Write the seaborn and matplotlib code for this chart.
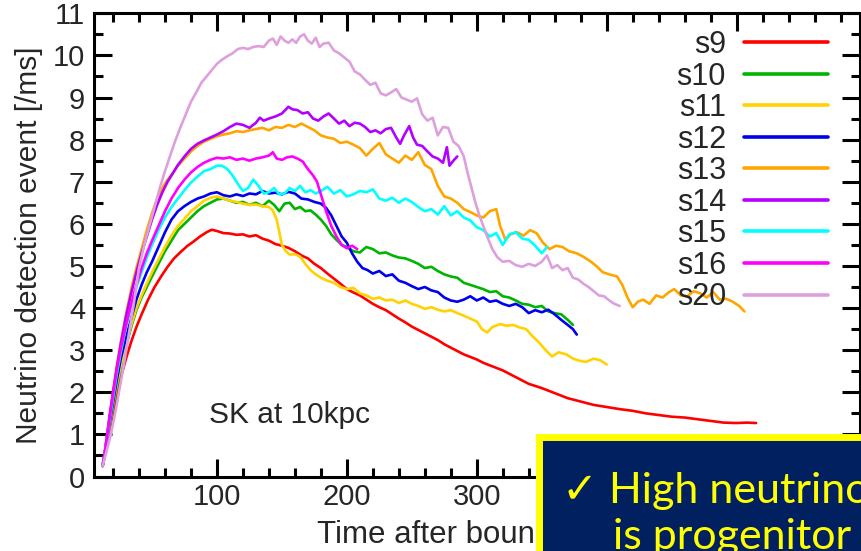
import matplotlib
matplotlib.use("Agg")
import matplotlib.pyplot as plt
from matplotlib.lines import Line2D
from matplotlib.patches import Rectangle
from matplotlib.ticker import MultipleLocator
import pandas as pd
import seaborn as sns

# ---- event-rate curves: (time after bounce [ms], events per ms) ----
s9 = [(12,0.25),(14,0.55),(17,1.05),(20,1.5),(23,1.95),(26,2.35),(30,2.8),(34,3.2),(38,3.55),(42,3.85),
      (47,4.2),(52,4.5),(57,4.75),(62,4.98),(67,5.18),(72,5.33),(77,5.47),(82,5.58),(87,5.7),(92,5.8),
      (96,5.86),(100,5.83),(105,5.78),(110,5.77),(115,5.74),(120,5.75),(125,5.7),(130,5.73),(135,5.65),
      (140,5.6),(145,5.52),(150,5.48),(155,5.43),(160,5.35),(165,5.25),(170,5.18),(175,5.05),(180,4.95),
      (185,4.82),(190,4.7),(195,4.58),(200,4.45),(205,4.37),(210,4.3),(215,4.2),(220,4.1),(225,4.02),
      (230,3.95),(235,3.85),(240,3.75),(245,3.66),(250,3.56),(255,3.48),(260,3.4),(265,3.32),(270,3.24),
      (275,3.14),(280,3.06),(285,2.98),(290,2.9),(295,2.84),(300,2.78),(305,2.7),(310,2.64),(315,2.58),
      (320,2.52),(330,2.36),(340,2.2),(350,2.1),(360,1.98),(370,1.86),(380,1.78),(390,1.7),(400,1.65),
      (410,1.6),(420,1.56),(430,1.5),(440,1.46),(450,1.42),(460,1.4),(470,1.36),(480,1.32),(490,1.28),
      (500,1.27),(508,1.28),(515,1.27)]

s10 = [(12,0.25),(14,0.6),(17,1.15),(20,1.65),(23,2.15),(26,2.6),(30,3.1),(34,3.55),(38,3.95),(42,4.25),
       (46,4.5),(50,4.75),(55,5.05),(60,5.35),(65,5.6),(70,5.85),(75,6.0),(80,6.15),(85,6.3),(90,6.42),
       (95,6.5),(100,6.58),(105,6.6),(110,6.55),(115,6.5),(120,6.52),(125,6.45),(130,6.5),(135,6.42),
       (140,6.55),(144,6.45),(148,6.3),(152,6.48),(156,6.5),(160,6.35),(164,6.4),(168,6.3),(172,6.32),
       (176,6.22),(180,6.1),(184,5.95),(188,5.75),(192,5.62),(196,5.5),(200,5.45),(205,5.35),(210,5.32),
       (215,5.45),(220,5.4),(225,5.3),(230,5.32),(235,5.25),(240,5.2),(245,5.18),(250,5.12),(255,5.05),
       (260,4.95),(265,4.98),(270,4.88),(275,4.8),(280,4.75),(285,4.72),(290,4.6),(295,4.55),(300,4.5),
       (305,4.45),(310,4.38),(315,4.4),(320,4.28),(325,4.25),(330,4.18),(335,4.1),(340,4.08),(345,4.02),
       (350,4.05),(355,3.92),(360,3.88),(365,3.85),(370,3.72),(374,3.6)]

s11 = [(12,0.25),(14,0.6),(17,1.15),(20,1.7),(23,2.2),(26,2.65),(30,3.15),(34,3.6),(38,4.0),(42,4.3),
       (46,4.58),(50,4.85),(55,5.15),(60,5.45),(65,5.72),(70,5.95),(75,6.12),(80,6.3),(85,6.42),(90,6.55),
       (95,6.62),(100,6.65),(105,6.6),(110,6.55),(115,6.52),(120,6.48),(125,6.45),(130,6.46),(135,6.42),
       (140,6.4),(143,6.32),(146,6.1),(148,5.8),(150,5.5),(153,5.35),(156,5.27),(160,5.28),(164,5.22),
       (168,5.05),(172,4.9),(176,4.8),(180,4.72),(185,4.65),(190,4.6),(195,4.5),(200,4.45),(205,4.48),
       (210,4.35),(215,4.3),(220,4.22),(225,4.25),(230,4.18),(235,4.2),(240,4.12),(245,4.18),(250,4.1),
       (255,4.05),(260,3.98),(265,4.02),(270,3.96),(275,3.92),(280,3.95),(285,3.88),(290,3.82),(295,3.75),
       (300,3.68),(304,3.5),(308,3.42),(312,3.55),(318,3.62),(323,3.58),(328,3.6),(333,3.54),(338,3.5),
       (343,3.33),(348,3.18),(353,3.0),(358,2.85),(363,2.95),(369,2.9),(374,2.8),(379,2.75),(384,2.72),
       (390,2.8),(395,2.76),(400,2.66)]

s12 = [(12,0.25),(14,0.62),(17,1.2),(20,1.75),(23,2.3),(26,2.8),(30,3.3),(34,3.75),(38,4.2),(42,4.55),
       (46,4.85),(50,5.1),(55,5.45),(60,5.8),(65,6.1),(70,6.3),(75,6.42),(80,6.52),(85,6.6),(90,6.65),
       (95,6.72),(100,6.75),(105,6.68),(110,6.65),(115,6.7),(120,6.66),(125,6.72),(130,6.7),(135,6.78),
       (140,6.72),(145,6.74),(150,6.7),(155,6.76),(160,6.72),(165,6.6),(170,6.58),(175,6.52),(180,6.48),
       (184,6.38),(188,6.2),(192,5.95),(196,5.7),(200,5.55),(204,5.3),(208,5.1),(212,4.95),(216,4.9),
       (220,4.82),(225,4.88),(230,4.76),(235,4.8),(240,4.65),(245,4.6),(250,4.52),(255,4.45),(260,4.5),
       (265,4.42),(270,4.38),(275,4.25),(280,4.18),(285,4.15),(290,4.2),(295,4.28),(300,4.18),(305,4.25),
       (310,4.15),(315,4.18),(320,4.1),(325,4.05),(330,4.1),(335,4.02),(340,3.88),(345,3.95),(350,3.9),
       (355,3.96),(360,3.85),(365,3.72),(370,3.6),(374,3.5),(377,3.37)]

s13 = [(12,0.25),(14,0.65),(17,1.35),(20,2.0),(23,2.65),(26,3.2),(30,3.85),(34,4.45),(38,4.95),(42,5.4),
       (46,5.85),(50,6.25),(54,6.6),(58,6.85),(62,7.05),(66,7.2),(70,7.38),(75,7.55),(80,7.72),(85,7.85),
       (90,7.95),(95,8.02),(100,8.08),(105,8.12),(110,8.15),(115,8.2),(120,8.18),(125,8.22),(130,8.25),
       (135,8.28),(140,8.22),(145,8.3),(150,8.28),(155,8.35),(160,8.3),(165,8.38),(170,8.3),(175,8.22),
       (180,8.1),(185,8.05),(190,8.02),(195,7.92),(200,7.95),(205,7.88),(210,7.8),(215,7.62),(220,7.78),
       (225,7.92),(230,7.65),(235,7.55),(240,7.45),(245,7.62),(250,7.52),(255,7.7),(260,7.4),(265,7.3),
       (270,6.9),(275,6.65),(280,6.6),(285,6.5),(290,6.35),(295,6.28),(300,6.2),(305,6.15),(310,6.3),
       (315,6.35),(318,5.95),(322,5.62),(326,5.75),(331,5.8),(336,5.72),(341,5.85),(346,5.78),(351,5.55),
       (356,5.4),(361,5.48),(366,5.45),(371,5.35),(377,5.3),(382,5.22),(387,5.12),(392,5.0),(397,4.85),
       (402,4.8),(408,4.75),(412,4.55),(416,4.25),(420,4.02),(424,4.15),(428,4.2),(433,4.1),(438,4.3),
       (443,4.25),(448,4.38),(452,4.45),(457,4.3),(462,4.28),(467,4.4),(472,4.35),(477,4.25),(482,4.38),
       (487,4.2),(492,4.22),(497,4.15),(502,4.05),(506,3.92)]

s14 = [(12,0.25),(14,0.65),(17,1.35),(20,2.0),(23,2.6),(26,3.15),(30,3.8),(34,4.35),(38,4.85),(42,5.3),
       (46,5.7),(50,6.1),(54,6.45),(58,6.75),(62,7.0),(66,7.2),(70,7.4),(75,7.6),(80,7.78),(85,7.9),
       (90,7.98),(95,8.05),(100,8.12),(105,8.2),(110,8.3),(115,8.38),(120,8.35),(125,8.28),(130,8.4),
       (133,8.52),(136,8.45),(140,8.5),(145,8.55),(150,8.62),(155,8.78),(158,8.72),(162,8.7),(166,8.62),
       (170,8.65),(174,8.5),(178,8.45),(182,8.55),(186,8.62),(190,8.5),(194,8.38),(198,8.45),(202,8.32),
       (206,8.4),(210,8.38),(214,8.3),(218,8.18),(222,8.22),(226,8.15),(230,8.25),(234,8.28),(238,8.05),
       (241,7.9),(244,8.1),(248,8.32),(251,8.05),(254,7.88),(258,7.85),(262,7.72),(266,7.6),(270,7.55),
       (274,7.45),(277,7.82),(279,7.38),(282,7.5),(285,7.6)]

s15 = [(12,0.25),(14,0.65),(17,1.25),(20,1.85),(23,2.45),(26,2.95),(30,3.55),(34,4.05),(38,4.5),(42,4.85),
       (46,5.2),(50,5.5),(55,5.85),(60,6.15),(65,6.4),(70,6.6),(75,6.8),(80,6.98),(85,7.12),(90,7.25),
       (95,7.3),(100,7.38),(104,7.38),(108,7.3),(112,7.15),(116,6.95),(120,6.78),(124,6.85),(128,7.05),
       (132,6.9),(136,6.72),(140,6.75),(144,6.85),(148,6.7),(152,6.72),(156,6.85),(160,6.78),(164,6.9),
       (168,6.75),(172,6.8),(176,6.72),(180,6.78),(185,6.88),(190,6.72),(195,6.8),(200,6.65),(205,6.7),
       (210,6.78),(215,6.75),(220,6.82),(225,6.6),(230,6.55),(235,6.62),(240,6.5),(245,6.6),(250,6.52),
       (255,6.4),(260,6.3),(265,6.35),(270,6.22),(275,6.42),(280,6.2),(285,6.3),(290,6.15),(295,6.08),
       (300,5.92),(305,5.85),(310,5.7),(315,5.78),(320,5.5),(325,5.75),(330,5.8),(335,5.65),(340,5.62),
       (345,5.48),(350,5.3),(354,5.45)]

s16 = [(12,0.25),(14,0.65),(17,1.3),(20,1.95),(23,2.55),(26,3.05),(30,3.6),(34,4.1),(38,4.55),(42,4.95),
       (46,5.3),(50,5.6),(55,5.95),(60,6.3),(65,6.6),(70,6.85),(75,7.05),(80,7.22),(85,7.35),(90,7.45),
       (95,7.52),(100,7.57),(105,7.55),(110,7.58),(115,7.52),(120,7.55),(125,7.5),(130,7.55),(135,7.58),
       (140,7.62),(143,7.7),(146,7.55),(150,7.52),(154,7.58),(158,7.6),(162,7.55),(166,7.48),(170,7.3),
       (174,7.15),(177,7.0),(180,6.7),(184,6.3),(188,5.95),(192,5.7),(196,5.5),(200,5.42),(204,5.48),
       (208,5.4)]

s20 = [(12,0.25),(15,0.6),(18,0.95),(21,1.4),(24,1.9),(28,2.6),(32,3.35),(36,4.1),(40,4.95),(44,5.5),
       (48,5.95),(52,6.4),(56,6.85),(60,7.25),(64,7.62),(68,7.98),(72,8.3),(76,8.6),(80,8.9),(84,9.12),
       (88,9.35),(92,9.5),(96,9.65),(100,9.8),(104,9.9),(108,9.98),(112,10.05),(116,10.15),(120,10.18),
       (124,10.15),(128,10.2),(132,10.22),(136,10.2),(140,10.35),(143,10.4),(146,10.25),(149,10.45),
       (152,10.35),(155,10.3),(158,10.38),(161,10.3),(164,10.45),(167,10.5),(170,10.35),(173,10.28),
       (176,10.42),(179,10.2),(182,10.28),(186,10.3),(190,10.12),(194,10.05),(198,9.95),(202,9.85),
       (206,9.62),(210,9.55),(214,9.42),(218,9.3),(222,9.35),(226,9.1),(230,9.05),(234,9.12),(238,9.2),
       (242,9.0),(246,8.95),(250,8.9),(254,8.98),(258,8.6),(262,8.45),(266,8.52),(270,8.1),(274,8.3),
       (278,8.28),(282,7.95),(286,7.85),(290,7.6),(293,7.2),(296,6.85),(299,6.5),(302,6.2),(305,5.95),
       (308,5.7),(312,5.4),(316,5.2),(320,5.1),(325,5.12),(330,5.02),(335,4.98),(340,5.05),(345,5.0),
       (350,5.1),(354,5.25),(358,4.95),(362,5.02),(366,4.9),(370,4.95),(374,4.72),(378,4.68),(382,4.58),
       (386,4.5),(390,4.4),(394,4.3),(398,4.28),(402,4.18),(406,4.1),(410,4.05)]

models = ["s9", "s10", "s11", "s12", "s13", "s14", "s15", "s16", "s20"]
series = [s9, s10, s11, s12, s13, s14, s15, s16, s20]
colors = ["#FF0000", "#00B400", "#FFD200", "#0000F0", "#FFA500",
          "#B400FF", "#00FFFF", "#FF00FF", "#DDA0DD"]

x_ticks = [100, 200, 300, 400, 500]
y_ticks = list(range(0, 12))

# ---- long-form table ----
rows = []
for name, pts in zip(models, series):
    for t, r in pts:
        rows.append({"time": t, "rate": r, "model": name})
df = pd.DataFrame(rows)

sns.set_style("ticks")
plt.rcParams["font.family"] = ["Liberation Sans", "DejaVu Sans"]

fig = plt.figure(figsize=(8.62, 5.51), dpi=100)
ax = fig.add_axes([0.1085, 0.1352, 0.8892, 0.8407])

palette = dict(zip(models, colors))
sns.lineplot(data=df, x="time", y="rate", hue="model", hue_order=models,
             palette=palette, estimator=None, sort=False, linewidth=1.9,
             legend=False, ax=ax)

ax.set_xlim(5, 595)
ax.set_ylim(0, 11)
ax.set_xticks(x_ticks)
ax.set_yticks(y_ticks)
ax.xaxis.set_minor_locator(MultipleLocator(20))
ax.yaxis.set_minor_locator(MultipleLocator(0.5))

for sp in ax.spines.values():
    sp.set_visible(True)
    sp.set_linewidth(2.2)
    sp.set_color("black")

ax.tick_params(which="both", direction="in", top=True, right=True,
               width=2.2, color="black")
ax.tick_params(which="major", length=13, labelsize=21, pad=5)
ax.tick_params(which="minor", length=6.5)
ax.tick_params(axis="y", which="major", pad=6)

ax.set_xlabel("Time after bounce [ms]", fontsize=22.5, labelpad=6.5)
ax.set_ylabel("Neutrino detection event [/ms]", fontsize=21.5, labelpad=7)

ax.text(94, 1.28, "SK at 10kpc", fontsize=21.5, ha="left", va="baseline")

handles = [Line2D([], [], color=c, lw=2.6) for c in colors]
ax.legend(handles, models, loc="upper right",
          bbox_to_anchor=(828 / 862, 1 - 30 / 551), bbox_transform=fig.transFigure,
          frameon=False, markerfirst=False, fontsize=22, handlelength=2.75,
          handletextpad=0.59, labelspacing=0.05, borderpad=0, borderaxespad=0)

# ---- highlighted call-out box ----
box = Rectangle((539.5 / 862, -0.2), 1.0, 0.2 + (1 - 437 / 551),
                transform=fig.transFigure, facecolor="#002060",
                edgecolor="#FFFF00", linewidth=5, clip_on=False, zorder=10)
fig.patches.append(box)
callout_font = ["Lato", "DejaVu Sans"]
fig.text(562 / 862, 1 - 503 / 551, "\u2713 High neutrino", color="#FFFF00",
         fontsize=31, family=callout_font, va="baseline", ha="left", zorder=11)
fig.text(613 / 862, 1 - 549 / 551, "is progenitor", color="#FFFF00",
         fontsize=31, family=callout_font, va="baseline", ha="left", zorder=11)

fig.savefig("out.png", dpi=100)
